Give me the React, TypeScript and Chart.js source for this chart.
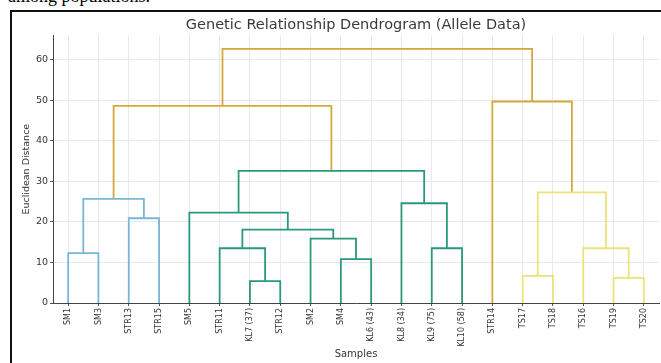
import React, { useEffect, useRef } from 'react';
import { Chart, registerables } from 'chart.js';
Chart.register(...registerables);

// Leaves of the dendrogram, left to right
const leafLabels = [
  'SM1', 'SM3', 'STR13', 'STR15', 'SM5', 'STR11', 'KL7 (37)', 'STR12', 'SM2', 'SM4',
  'KL6 (43)', 'KL8 (34)', 'KL9 (75)', 'KL10 (58)', 'STR14', 'TS17', 'TS18', 'TS16', 'TS19', 'TS20',
];
// Merges (linkage): ids < 20 are leaves, id 20 + k is merge k
const mergeLeft = [0, 2, 20, 6, 5, 9, 8, 24, 4, 12, 11, 28, 22, 15, 18, 17, 33, 14, 32];
const mergeRight = [1, 3, 21, 7, 23, 10, 25, 26, 27, 13, 29, 30, 31, 16, 19, 34, 35, 36, 37];
const mergeHeight = [12.3, 20.9, 25.7, 5.4, 13.5, 10.8, 15.9, 18.1, 22.3, 13.5, 24.6, 32.6, 48.6, 6.7, 6.2, 13.5, 27.3, 49.7, 62.7];
const mergeGroup = [
  'blue', 'blue', 'blue',
  'green', 'green', 'green', 'green', 'green', 'green', 'green', 'green', 'green',
  'orange',
  'yellow', 'yellow', 'yellow', 'yellow',
  'orange', 'orange',
];
const yTicks = [0, 10, 20, 30, 40, 50, 60];
const yMax = 66;

const groupColors: Record<string, string> = {
  blue: '#78b6d6',
  green: '#2a987e',
  yellow: '#ece27a',
  orange: '#d4a93c',
};

const FONT = 'DejaVu Sans';

export default function App() {
  const ref = useRef<HTMLCanvasElement>(null);
  useEffect(() => {
    document.body.style.margin = '0';
    const pos: number[] = leafLabels.map((_, i) => i * 10 + 5);
    const hts: number[] = leafLabels.map(() => 0);
    const datasets = mergeHeight.map((h, k) => {
      const a = mergeLeft[k];
      const b = mergeRight[k];
      const xa = pos[a];
      const xb = pos[b];
      const ya = hts[a];
      const yb = hts[b];
      pos.push((xa + xb) / 2);
      hts.push(h);
      return {
        data: [
          { x: xa, y: ya },
          { x: xa, y: h },
          { x: xb, y: h },
          { x: xb, y: yb },
        ],
        borderColor: groupColors[mergeGroup[k]],
        borderWidth: 1.8,
        showLine: true,
        pointRadius: 0,
        fill: false,
        tension: 0,
      };
    });

    const chart = new Chart(ref.current as HTMLCanvasElement, {
      type: 'scatter',
      data: { datasets: datasets as any },
      options: {
        animation: false,
        responsive: false,
        layout: { padding: { left: 15, top: 12, right: 2, bottom: 0 } },
        plugins: {
          legend: { display: false },
          tooltip: { enabled: false },
          title: {
            display: true,
            text: 'Genetic Relationship Dendrogram (Allele Data)',
            fullSize: false,
            color: '#3a3a3a',
            font: { family: FONT, size: 14.5, weight: 'normal' },
            padding: { top: 5, bottom: 1 },
          },
        },
        scales: {
          x: {
            type: 'linear',
            min: 0,
            max: 200,
            afterBuildTicks: (s: any) => {
              s.ticks = leafLabels.map((_, i) => ({ value: i * 10 + 5 }));
            },
            afterFit: (s: any) => {
              s.height = 60;
            },
            ticks: {
              autoSkip: false,
              minRotation: 90,
              maxRotation: 90,
              padding: 2,
              color: '#333',
              font: { family: FONT, size: 8 },
              callback: (_v: any, i: number) => leafLabels[i],
            },
            grid: { color: '#e8e8e8', lineWidth: 1, tickLength: 3, tickColor: '#555' },
            border: { display: true, color: '#444', width: 1 },
            title: {
              display: true,
              text: 'Samples',
              color: '#333',
              font: { family: FONT, size: 10 },
              padding: { top: 0, bottom: 3 },
            },
          },
          y: {
            type: 'linear',
            min: 0,
            max: yMax,
            afterBuildTicks: (s: any) => {
              s.ticks = yTicks.map((v) => ({ value: v }));
            },
            afterFit: (s: any) => {
              s.width = 38;
            },
            ticks: {
              padding: 2,
              color: '#333',
              font: { family: FONT, size: 9.5 },
            },
            grid: { color: '#e8e8e8', lineWidth: 1, tickLength: 3, tickColor: '#555' },
            border: { display: true, color: '#444', width: 1 },
            title: {
              display: true,
              text: 'Euclidean Distance',
              color: '#333',
              font: { family: FONT, size: 9.5 },
              padding: { top: 6, bottom: 0 },
            },
          },
        },
      } as any,
    });
    return () => chart.destroy();
  }, []);

  return (
    <div style={{ position: 'fixed', left: 0, top: 0, width: 661, height: 363, background: '#fff', overflow: 'hidden' }}>
      <div
        style={{
          position: 'absolute',
          left: 8,
          top: -13,
          fontFamily: '"Liberation Serif", serif',
          fontSize: 18,
          lineHeight: '18px',
          color: '#000',
          whiteSpace: 'nowrap',
        }}
      >
        among populations.
      </div>
      <div
        style={{
          position: 'absolute',
          left: 10,
          top: 10,
          width: 700,
          height: 400,
          border: '2px solid #111',
          boxSizing: 'border-box',
        }}
      />
      <canvas ref={ref} width={661} height={363} style={{ position: 'absolute', left: 0, top: 0, width: 661, height: 363 }} />
    </div>
  );
}
